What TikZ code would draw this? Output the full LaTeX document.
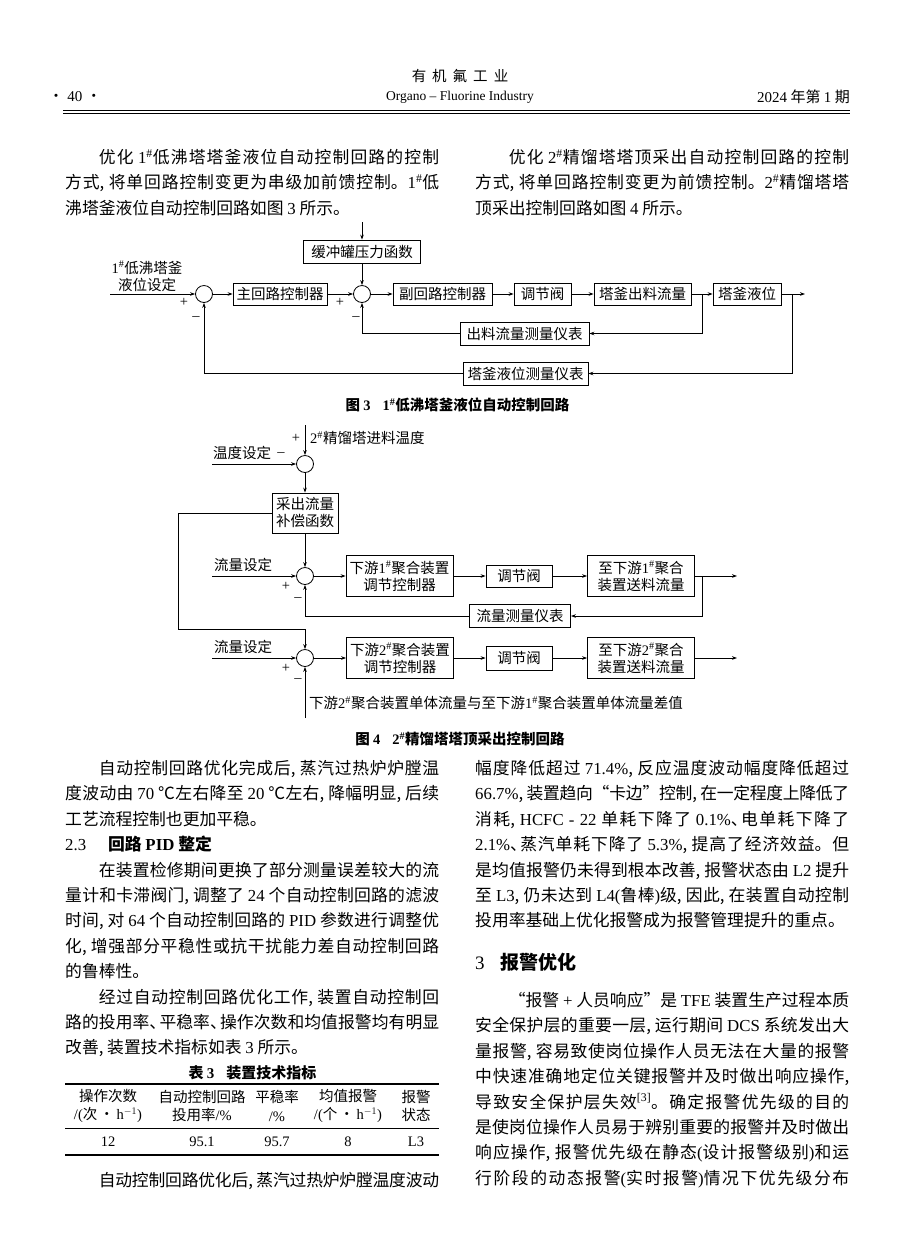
\documentclass[tikz,border=0pt]{standalone}
\usepackage{fontspec}
\setmainfont{Noto Sans CJK SC}
\newfontfamily\latinfont{Liberation Serif}
\usetikzlibrary{arrows.meta}
\XeTeXlinebreaklocale "zh"
\XeTeXlinebreakskip=0pt plus 3pt minus 0.8pt
\newcommand{\rmn}[1]{{\latinfont #1}}
\newcommand{\hashsup}{\textsuperscript{\latinfont\#}}
\newcommand{\dun}{\makebox[0.6em][l]{、}}
\newcommand{\bodyfont}{\fontsize{16.8}{25.4}\selectfont}
\newcommand{\figfont}{\fontsize{14.5}{17}\selectfont}
\newcommand{\capfont}{\fontsize{14.5}{17}\selectfont\bfseries}

\tikzset{
  blk/.style={draw, line width=0.8pt, inner sep=0pt, font=\figfont, align=center, minimum height=23pt},
  sumc/.style={draw, circle, line width=0.8pt, minimum size=17pt, inner sep=0pt},
  sig/.style={line width=0.8pt, -{Stealth[length=5pt,width=3.6pt]}},
  lbl/.style={font=\figfont, inner sep=0pt},
  para/.style={anchor=base west, inner sep=0pt, text width=374pt, align=justify, execute at begin node=\bodyfont},
  cell/.style={font=\fontsize{14.5}{18.5}\selectfont, inner sep=0pt, align=center},
}

\begin{document}
\begin{tikzpicture}[x=1pt, y=-1pt]
  \useasboundingbox (0,0) rectangle (920,1254);
  \fill[white] (0,0) rectangle (920,1254);

  % page header
  \node[lbl] (jname) at (460,76) {有\hspace{6pt}机\hspace{6pt}氟\hspace{6pt}工\hspace{6pt}业};
  \node[lbl, font=\fontsize{15}{17}\selectfont] (pageno) at (75,97) {·\hspace{4pt}\rmn{40}\hspace{4pt}·};
  \node[lbl, font=\fontsize{13.5}{16}\selectfont\latinfont] (jeng) at (460,97) {Organo – Fluorine Industry};
  \node[lbl, font=\fontsize{15}{17}\selectfont, anchor=east] (issue) at (850,97) {\rmn{2024} 年第 \rmn{1} 期};
  \draw[line width=1pt] (63,110) -- (850,110);
  \draw[line width=0.6pt] (63,113.5) -- (850,113.5);

  % top paragraphs
  \node[para] (ptl) at (65,163.5) {\hspace*{2em}优化 \rmn{1}\hashsup{}低沸塔塔釜液位自动控制回路的控制\linebreak
    方式, 将单回路控制变更为串级加前馈控制。\rmn{1}\hashsup{}低\linebreak
    沸塔釜液位自动控制回路如图 \rmn{3} 所示。};
  \node[para] (ptr) at (475,163.5) {\hspace*{2em}优化 \rmn{2}\hashsup{}精馏塔塔顶采出自动控制回路的控制\linebreak
    方式, 将单回路控制变更为前馈控制。\rmn{2}\hashsup{}精馏塔塔\linebreak
    顶采出控制回路如图 \rmn{4} 所示。};

  % figure 3: cascade + feedforward level loop
  \node[blk, minimum width=117pt] (buf) at (362,251.5) {缓冲罐压力函数};
  \node[sumc] (s1) at (204,294) {};
  \node[sumc] (s2) at (362,294) {};
  \node[blk, minimum width=94pt, minimum height=22pt] (mainc) at (280,294) {主回路控制器};
  \node[blk, minimum width=99pt, minimum height=22pt] (subc) at (442.5,294) {副回路控制器};
  \node[blk, minimum width=57pt, minimum height=22pt] (valve) at (542.5,294) {调节阀};
  \node[blk, minimum width=97pt, minimum height=22pt] (outflow) at (642.5,294) {塔釜出料流量};
  \node[blk, minimum width=68pt, minimum height=22pt] (level) at (747,294) {塔釜液位};
  \node[blk, minimum width=129pt] (fmeas) at (524.5,333.5) {出料流量测量仪表};
  \node[blk, minimum width=125pt] (lmeas) at (525.5,373.5) {塔釜液位测量仪表};

  \coordinate (bufin) at (362,222);
  \coordinate (spin) at (110,294);
  \coordinate (lvout) at (805,294);
  \coordinate (tap1) at (702,294);
  \coordinate (tap2) at (792,294);

  \draw[sig] (bufin) -- (buf);
  \draw[sig] (buf) -- (s2);
  \draw[sig] (spin) -- (s1);
  \draw[sig] (s1) -- (mainc);
  \draw[sig] (mainc) -- (s2);
  \draw[sig] (s2) -- (subc);
  \draw[sig] (subc) -- (valve);
  \draw[sig] (valve) -- (outflow);
  \draw[sig] (outflow) -- (level);
  \draw[sig] (level) -- (lvout);
  \draw[sig] (tap1) |- (fmeas);
  \draw[sig] (fmeas) -| (s2);
  \draw[sig] (tap2) |- (lmeas);
  \draw[sig] (lmeas) -| (s1);

  \node[lbl, align=center] (splbl) at (147,276) {\rmn{1}\hashsup{}低沸塔釜\\液位设定};
  \node[lbl] (p1) at (184,302) {\rmn{+}};
  \node[lbl] (m1) at (196,319) {\rmn{–}};
  \node[lbl] (p2) at (340,302) {\rmn{+}};
  \node[lbl] (m2) at (356,319) {\rmn{–}};
  \node[lbl, font=\capfont] (cap3) at (457.5,405) {图 \rmn{3}\hspace{12pt}\rmn{1}\hashsup{}低沸塔釜液位自动控制回路};

  % figure 4: top draw-off feedforward loops
  \coordinate (tempin) at (305,425);
  \coordinate (tempsp) at (212,464);
  \node[sumc] (sa) at (305,464) {};
  \node[blk, minimum width=66pt, minimum height=40pt] (comp) at (305,513) {采出流量\\补偿函数};
  \node[sumc] (sb) at (305,576) {};
  \coordinate (flowsp1) at (212,576);
  \node[blk, minimum width=107pt, minimum height=41pt] (ctl1) at (399.5,576) {下游\rmn{1}\hashsup{}聚合装置\\调节控制器};
  \node[blk, minimum width=66pt, minimum height=22pt] (vlv1) at (519,576) {调节阀};
  \node[blk, minimum width=107pt, minimum height=41pt] (feed1) at (641,576) {至下游\rmn{1}\hashsup{}聚合\\装置送料流量};
  \coordinate (out1) at (737,576);
  \coordinate (tap3) at (702,576);
  \node[blk, minimum width=101pt] (fm1) at (520,616) {流量测量仪表};
  \coordinate (loopc) at (178,629);
  \node[sumc] (sc) at (305,658) {};
  \coordinate (flowsp2) at (212,658);
  \node[blk, minimum width=107pt, minimum height=41pt] (ctl2) at (400,658) {下游\rmn{2}\hashsup{}聚合装置\\调节控制器};
  \node[blk, minimum width=66pt, minimum height=24pt] (vlv2) at (519,658) {调节阀};
  \node[blk, minimum width=107pt, minimum height=41pt] (feed2) at (641,658) {至下游\rmn{2}\hashsup{}聚合\\装置送料流量};
  \coordinate (out2) at (737,658);
  \coordinate (diffin) at (305,718);

  \draw[sig] (tempin) -- (sa);
  \draw[sig] (tempsp) -- (sa);
  \draw[sig] (sa) -- (comp);
  \draw[sig] (comp) -- (sb);
  \draw[sig] (comp.west) -| (loopc) -| (sc);
  \draw[sig] (flowsp1) -- (sb);
  \draw[sig] (sb) -- (ctl1);
  \draw[sig] (ctl1) -- (vlv1);
  \draw[sig] (vlv1) -- (feed1);
  \draw[sig] (feed1) -- (out1);
  \draw[sig] (tap3) |- (fm1);
  \draw[sig] (fm1) -| (sb);
  \draw[sig] (flowsp2) -- (sc);
  \draw[sig] (sc) -- (ctl2);
  \draw[sig] (ctl2) -- (vlv2);
  \draw[sig] (vlv2) -- (feed2);
  \draw[sig] (feed2) -- (out2);
  \draw[sig] (diffin) -- (sc);

  \node[lbl] (p3) at (296,438) {\rmn{+}};
  \node[lbl, anchor=west] (templbl) at (310,438) {\rmn{2}\hashsup{}精馏塔进料温度};
  \node[lbl] (tsplbl) at (242,453) {温度设定};
  \node[lbl] (m3) at (281,455) {\rmn{–}};
  \node[lbl] (fsplbl1) at (243,565) {流量设定};
  \node[lbl] (p4) at (286,586) {\rmn{+}};
  \node[lbl] (m4) at (298,600) {\rmn{–}};
  \node[lbl] (fsplbl2) at (243,647) {流量设定};
  \node[lbl] (p5) at (286,668) {\rmn{+}};
  \node[lbl] (m5) at (298,681) {\rmn{–}};
  \node[lbl, anchor=west] (difflbl) at (309,703) {下游\rmn{2}\hashsup{}聚合装置单体流量与至下游\rmn{1}\hashsup{}聚合装置单体流量差值};
  \node[lbl, font=\capfont] (cap4) at (460,739) {图 \rmn{4}\hspace{12pt}\rmn{2}\hashsup{}精馏塔塔顶采出控制回路};

  % left column body
  \node[para] (pl1) at (65,774.5) {\hspace*{2em}自动控制回路优化完成后, 蒸汽过热炉炉膛温\linebreak
    度波动由 \rmn{70} ℃左右降至 \rmn{20} ℃左右, 降幅明显, 后续\linebreak
    工艺流程控制也更加平稳。\par
    \rmn{2.3}\hspace{1.3em}{\bfseries 回路 \rmn{PID} 整定}\par
    \hspace*{2em}在装置检修期间更换了部分测量误差较大的流\linebreak
    量计和卡滞阀门, 调整了 \rmn{24} 个自动控制回路的滤波\linebreak
    时间, 对 \rmn{64} 个自动控制回路的 \rmn{PID} 参数进行调整优\linebreak
    化, 增强部分平稳性或抗干扰能力差自动控制回路\linebreak
    的鲁棒性。\par
    \hspace*{2em}经过自动控制回路优化工作, 装置自动控制回\linebreak
    路的投用率\dun{}平稳率\dun{}操作次数和均值报警均有明显\linebreak
    改善, 装置技术指标如表 \rmn{3} 所示。};

  % table 3
  \node[lbl, font=\fontsize{15}{17}\selectfont\bfseries] (t3) at (252.5,1073) {表 \rmn{3}\hspace{12pt}装置技术指标};
  \draw[line width=1.2pt] (65,1084) -- (439,1084);
  \draw[line width=0.6pt] (65,1128) -- (439,1128);
  \draw[line width=1.2pt] (65,1155) -- (439,1155);
  \node[cell] (h1) at (108,1106) {操作次数\\\rmn{/(}次\,·\,\rmn{h}$^{-1}$\rmn{)}};
  \node[cell] (h2) at (202,1106) {自动控制回路\\投用率\rmn{/\%}};
  \node[cell] (h3) at (277,1106) {平稳率\\\rmn{/\%}};
  \node[cell] (h4) at (348,1106) {均值报警\\\rmn{/(}个\,·\,\rmn{h}$^{-1}$\rmn{)}};
  \node[cell] (h5) at (416,1106) {报警\\状态};
  \node[cell] (d1) at (108,1142) {\rmn{12}};
  \node[cell] (d2) at (202,1142) {\rmn{95.1}};
  \node[cell] (d3) at (277,1142) {\rmn{95.7}};
  \node[cell] (d4) at (348,1142) {\rmn{8}};
  \node[cell] (d5) at (416,1142) {\rmn{L3}};

  \node[para] (pl2) at (65,1186.5) {\hspace*{2em}自动控制回路优化后, 蒸汽过热炉炉膛温度波动\parfillskip=0pt\par};

  % right column body
  \node[para] (pr1) at (475,774.5) {幅度降低超过 \rmn{71.4\%}, 反应温度波动幅度降低超过\linebreak
    \rmn{66.7\%}, 装置趋向“卡边”控制, 在一定程度上降低了\linebreak
    消耗, \rmn{HCFC - 22} 单耗下降了 \rmn{0.1\%}\dun{}电单耗下降了\linebreak
    \rmn{2.1\%}\dun{}蒸汽单耗下降了 \rmn{5.3\%}, 提高了经济效益。但\linebreak
    是均值报警仍未得到根本改善, 报警状态由 \rmn{L2} 提升\linebreak
    至 \rmn{L3}, 仍未达到 \rmn{L4(}鲁棒\rmn{)}级, 因此, 在装置自动控制\linebreak
    投用率基础上优化报警成为报警管理提升的重点。};
  \node[anchor=base west, inner sep=0pt, font=\fontsize{19}{22}\selectfont] (sec3) at (475,969) {\rmn{3}\hspace{16pt}{\bfseries 报警优化}};
  \node[para] (pr2) at (475,1006.4) {\hspace*{2em}“报警 \rmn{+} 人员响应”是 \rmn{TFE} 装置生产过程本质\linebreak
    安全保护层的重要一层, 运行期间 \rmn{DCS} 系统发出大\linebreak
    量报警, 容易致使岗位操作人员无法在大量的报警\linebreak
    中快速准确地定位关键报警并及时做出响应操作,\linebreak
    导致安全保护层失效\textsuperscript{\rmn{[3]}}。确定报警优先级的目的\linebreak
    是使岗位操作人员易于辨别重要的报警并及时做出\linebreak
    响应操作, 报警优先级在静态\rmn{(}设计报警级别\rmn{)}和运\linebreak
    行阶段的动态报警\rmn{(}实时报警\rmn{)}情况下优先级分布\parfillskip=0pt\par};
\end{tikzpicture}
\end{document}
